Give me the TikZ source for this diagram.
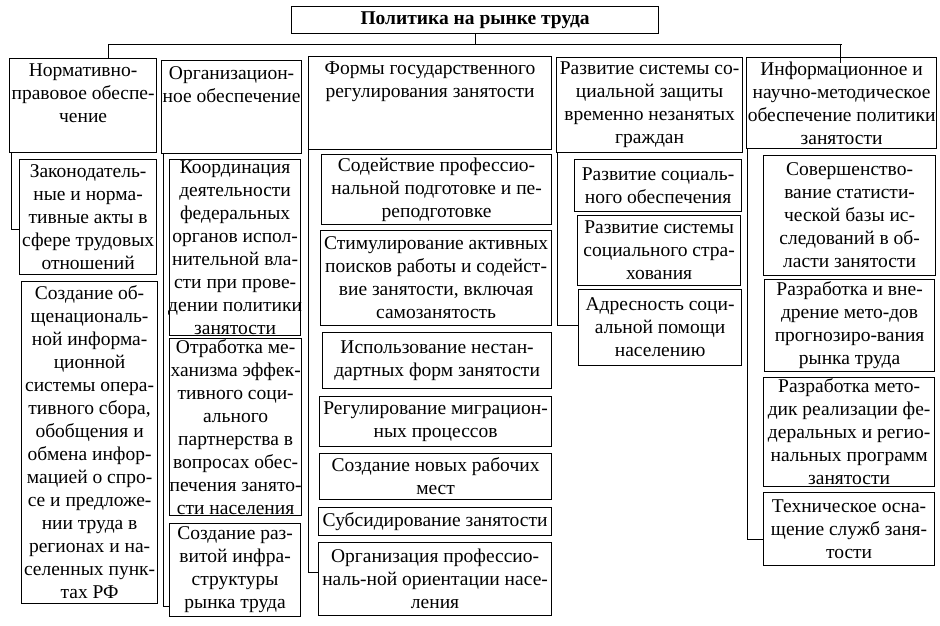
\documentclass[tikz,border=0pt]{standalone}
\usepackage{fontspec}
\setmainfont{Liberation Serif}
\usepackage{tikz}

\begin{document}
\begin{tikzpicture}[x=1pt,y=-1pt,
  item node/.style={draw,line width=1.2pt,anchor=north west,align=center,inner sep=0pt,font=\fontsize{19.5}{23}\selectfont},
  head node/.style={item node,label={[anchor=north,align=center,inner sep=1pt,yshift=-5pt,font=\fontsize{19.5}{23}\selectfont]north:#1}},
  link/.style={line width=0.9pt}]
\useasboundingbox (0,0) rectangle (940,625);
% title
\node[item node,minimum width=367pt,minimum height=27pt,font=\fontsize{19.5}{23}\selectfont\bfseries] (0) at (291,6) {Политика на рынке труда};
% headers
\node[head node={Нормативно-\\правовое обеспе-\\чение},minimum width=147pt,minimum height=94pt] (1) at (9,58) {};
\node[head node={Организацион-\\ное обеспечение},minimum width=140pt,minimum height=93pt] (2) at (161,60) {};
\node[head node={Формы государственного\\регулирования занятости},minimum width=243pt,minimum height=93pt] (3) at (308,56) {};
\node[item node,minimum width=186pt,minimum height=95pt] (4) at (556,57) {Развитие системы со-\\циальной защиты\\временно незанятых\\граждан};
\node[item node,minimum width=190pt,minimum height=91pt] (5) at (746,57) {Информационное и\\научно-методическое\\\makebox[0pt]{обеспечение политики}\\занятости};
% column 1
\node[item node,minimum width=137pt,minimum height=115pt] (11) at (19,159) {Законодатель-\\ные и норма-\\тивные акты в\\сфере трудовых\\отношений};
\node[item node,minimum width=136pt,minimum height=322pt] (12) at (21,281) {Создание об-\\щенациональ-\\ной информа-\\ционной\\системы опера-\\тивного сбора,\\обобщения и\\обмена инфор-\\мацией о спро-\\се и предложе-\\нии труда в\\регионах и на-\\селенных пунк-\\тах РФ};
% column 2
\node[item node,minimum width=131pt,minimum height=176pt] (21) at (169,159) {Координация\\деятельности\\федеральных\\органов испол-\\нительной вла-\\сти при прове-\\\makebox[0pt]{дении политики}\\занятости};
\node[item node,minimum width=131pt,minimum height=177pt] (22) at (169,338) {Отработка ме-\\ханизма эффек-\\тивного соци-\\ального\\партнерства в\\вопросах обес-\\печения занято-\\сти населения};
\node[item node,minimum width=131pt,minimum height=93pt] (23) at (169,523) {Создание раз-\\витой инфра-\\структуры\\рынка труда};
% column 3
\node[item node,minimum width=230pt,minimum height=70pt] (31) at (321,154) {Содействие профессио-\\нальной подготовке и пе-\\реподготовке};
\node[item node,minimum width=231pt,minimum height=95pt] (32) at (320,230) {Стимулирование активных\\поисков работы и содейст-\\вие занятости, включая\\самозанятость};
\node[item node,minimum width=229pt,minimum height=56pt] (33) at (322,332) {Использование нестан-\\дартных форм занятости};
\node[item node,minimum width=232pt,minimum height=50pt] (34) at (319,396) {Регулирование миграцион-\\ных процессов};
\node[item node,minimum width=232pt,minimum height=46pt] (35) at (319,453) {Создание новых рабочих\\мест};
\node[item node,minimum width=233pt,minimum height=28pt] (36) at (318,507) {Субсидирование занятости};
\node[item node,minimum width=233pt,minimum height=73pt] (37) at (318,542) {Организация профессио-\\наль-ной ориентации насе-\\ления};
% column 4
\node[item node,minimum width=167pt,minimum height=52pt] (41) at (574,159) {Развитие социаль-\\ного обеспечения};
\node[item node,minimum width=163pt,minimum height=70pt] (42) at (577,215) {Развитие системы\\социального стра-\\хования};
\node[item node,minimum width=163pt,minimum height=76pt] (43) at (578,289) {Адресность соци-\\альной помощи\\населению};
% column 5
\node[item node,minimum width=172pt,minimum height=120pt] (51) at (763,155) {Совершенство-\\вание статисти-\\ческой базы ис-\\следований в об-\\ласти занятости};
\node[item node,minimum width=170pt,minimum height=92pt] (52) at (764,279) {Разработка и вне-\\дрение мето-дов\\прогнозиро-вания\\рынка труда};
\node[item node,minimum width=171pt,minimum height=109pt] (53) at (763,377) {Разработка мето-\\дик реализации фе-\\деральных и регио-\\нальных программ\\занятости};
\node[item node,minimum width=171pt,minimum height=73pt] (54) at (763,492) {Техническое осна-\\щение служб заня-\\тости};
% bus
\coordinate (busL) at (108,44);
\coordinate (busR) at (842,44);
\draw[link] (busL) -- (busR);
\draw[link] (0.south) -- (0.south |- busL);
\draw[link] (busL) -- (busL |- 1.north);
\draw[link] ([xshift=-2pt]busR) -- ([xshift=-2pt,yshift=-6pt]busR |- 5.north);
% spines
\draw[link] ([xshift=2pt]1.south west) |- ([yshift=-12.5pt]11.west);
\draw[link] ([xshift=2pt]2.south west) |- ([yshift=-36pt]23.west);
\draw[link] (3.south west) |- ([yshift=6.5pt]37.west);
\draw[link] ([xshift=1pt]4.south west) |- ([yshift=2pt]43.west);
\draw[link] ([xshift=1pt]5.south west) |- ([yshift=-10.5pt]54.west);
\end{tikzpicture}
\end{document}
